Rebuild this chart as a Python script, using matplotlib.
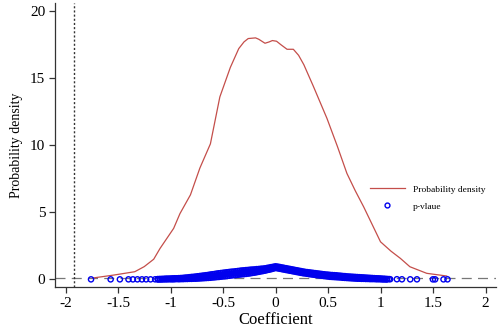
import matplotlib
matplotlib.use("Agg")
import matplotlib.pyplot as plt
from matplotlib.lines import Line2D

plt.rcParams['font.family'] = ['Liberation Serif', 'DejaVu Serif']
plt.rcParams['axes.unicode_minus'] = False

# Kernel density of the coefficients
dens_x = [-1.74, -1.54, -1.34, -1.25, -1.16, -1.10, -0.97, -0.91, -0.81, -0.72,
          -0.62, -0.53, -0.43, -0.35, -0.30, -0.26, -0.19, -0.16, -0.10, -0.06,
          -0.03, 0.01, 0.05, 0.11, 0.17, 0.22, 0.27, 0.36, 0.49, 0.59,
          0.68, 0.76, 0.84, 1.00, 1.10, 1.19, 1.28, 1.44, 1.63]
dens_y = [0.10, 0.32, 0.57, 0.95, 1.50, 2.3, 3.8, 4.9, 6.3, 8.3,
          10.1, 13.6, 15.8, 17.2, 17.7, 17.95, 18.0, 17.9, 17.6, 17.7,
          17.8, 17.75, 17.5, 17.15, 17.15, 16.7, 16.0, 14.4, 12.0, 9.9,
          7.9, 6.6, 5.4, 2.8, 2.1, 1.56, 0.94, 0.45, 0.25]

# p-values of the coefficients (dense band)
band_coef = [-1.12, -1.10, -1.08, -1.06, -1.04, -1.02, -1.00, -0.98, -0.96, -0.94,
             -0.92, -0.90, -0.88, -0.86, -0.84, -0.82, -0.80, -0.78, -0.76, -0.74,
             -0.72, -0.70, -0.68, -0.66, -0.64, -0.62, -0.60, -0.58, -0.56, -0.54,
             -0.52, -0.50, -0.48, -0.46, -0.44, -0.42, -0.40, -0.38, -0.36, -0.34,
             -0.32, -0.30, -0.28, -0.26, -0.24, -0.22, -0.20, -0.18, -0.16, -0.14,
             -0.12, -0.10, -0.08, -0.06, -0.04, -0.02, 0.00,
             0.02, 0.04, 0.06, 0.08, 0.10, 0.12, 0.14, 0.16, 0.18, 0.20,
             0.22, 0.24, 0.26, 0.28, 0.30, 0.32, 0.34, 0.36, 0.38, 0.40,
             0.42, 0.44, 0.46, 0.48, 0.50, 0.52, 0.54, 0.56, 0.58, 0.60,
             0.62, 0.64, 0.66, 0.68, 0.70, 0.72, 0.74, 0.76, 0.78, 0.80,
             0.82, 0.84, 0.86, 0.88, 0.90, 0.92, 0.94, 0.96, 0.98, 1.00,
             1.02, 1.04, 1.06]
band_p_low = [0.00, 0.00, 0.00, 0.01, 0.00, 0.01, 0.01, 0.00, 0.01, 0.02,
              0.01, 0.02, 0.02, 0.03, 0.03, 0.04, 0.04, 0.05, 0.05, 0.06,
              0.07, 0.08, 0.09, 0.10, 0.11, 0.12, 0.14, 0.15, 0.17, 0.18,
              0.20, 0.22, 0.23, 0.25, 0.27, 0.29, 0.31, 0.32, 0.34, 0.36,
              0.38, 0.39, 0.41, 0.43, 0.45, 0.48, 0.50, 0.53, 0.56, 0.59,
              0.62, 0.65, 0.69, 0.72, 0.76, 0.80, 0.85,
              0.82, 0.79, 0.76, 0.73, 0.70, 0.67, 0.64, 0.61, 0.58, 0.55,
              0.52, 0.49, 0.46, 0.44, 0.42, 0.39, 0.37, 0.35, 0.33, 0.31,
              0.29, 0.27, 0.25, 0.23, 0.21, 0.19, 0.18, 0.17, 0.16, 0.15,
              0.14, 0.12, 0.11, 0.10, 0.09, 0.08, 0.07, 0.06, 0.05, 0.05,
              0.04, 0.04, 0.03, 0.03, 0.02, 0.02, 0.02, 0.01, 0.01, 0.01,
              0.00, 0.00, 0.00]
band_p_mid = [0.01, 0.01, 0.02, 0.02, 0.03, 0.03, 0.03, 0.04, 0.04, 0.05,
              0.05, 0.06, 0.06, 0.08, 0.08, 0.10, 0.11, 0.12, 0.13, 0.14,
              0.16, 0.17, 0.19, 0.20, 0.22, 0.24, 0.26, 0.27, 0.30, 0.31,
              0.33, 0.35, 0.37, 0.39, 0.41, 0.43, 0.44, 0.46, 0.48, 0.50,
              0.52, 0.53, 0.55, 0.56, 0.58, 0.60, 0.62, 0.64, 0.66, 0.69,
              0.71, 0.73, 0.77, 0.80, 0.84, 0.87, 0.91,
              0.89, 0.86, 0.82, 0.80, 0.76, 0.74, 0.70, 0.68, 0.64, 0.62,
              0.58, 0.56, 0.52, 0.50, 0.48, 0.45, 0.44, 0.41, 0.40, 0.37,
              0.36, 0.33, 0.32, 0.29, 0.28, 0.26, 0.25, 0.24, 0.23, 0.21,
              0.20, 0.18, 0.17, 0.16, 0.15, 0.14, 0.13, 0.12, 0.11, 0.10,
              0.09, 0.09, 0.08, 0.07, 0.06, 0.06, 0.05, 0.04, 0.04, 0.03,
              0.02, 0.02, 0.01]
band_p_high = [0.02, 0.03, 0.03, 0.04, 0.05, 0.05, 0.06, 0.07, 0.08, 0.08,
               0.09, 0.10, 0.11, 0.13, 0.14, 0.16, 0.18, 0.19, 0.21, 0.23,
               0.25, 0.27, 0.29, 0.31, 0.33, 0.36, 0.38, 0.40, 0.43, 0.45,
               0.47, 0.49, 0.51, 0.53, 0.55, 0.57, 0.58, 0.60, 0.62, 0.64,
               0.66, 0.67, 0.69, 0.70, 0.72, 0.73, 0.74, 0.76, 0.77, 0.79,
               0.80, 0.82, 0.85, 0.88, 0.91, 0.94, 0.97,
               0.95, 0.92, 0.89, 0.86, 0.83, 0.80, 0.77, 0.74, 0.71, 0.68,
               0.65, 0.62, 0.59, 0.56, 0.54, 0.52, 0.50, 0.48, 0.46, 0.44,
               0.42, 0.40, 0.38, 0.36, 0.35, 0.33, 0.32, 0.31, 0.30, 0.28,
               0.27, 0.25, 0.24, 0.22, 0.21, 0.20, 0.19, 0.18, 0.17, 0.16,
               0.15, 0.14, 0.13, 0.12, 0.11, 0.10, 0.09, 0.08, 0.07, 0.06,
               0.05, 0.04, 0.03]

# isolated p-values in the tails
tail_coef = [-1.757, -1.57, -1.482, -1.40, -1.358, -1.315, -1.272, -1.232, -1.19, -1.146,
             1.08, 1.092, 1.156, 1.204, 1.283, 1.347, 1.499, 1.52, 1.60, 1.638]
tail_p = [0.0, 0.0, 0.0, 0.001, 0.0, 0.001, 0.0, 0.002, 0.001, 0.003,
          0.02, 0.01, 0.01, 0.004, 0.002, 0.002, 0.0, 0.001, 0.0, 0.001]

crit_coef = -1.92
p_threshold = 0.1

x_ticks = [-2, -1.5, -1, -0.5, 0, 0.5, 1, 1.5, 2]
x_ticklabels = ["-2", "-1.5", "-1", "-0.5", "0", "0.5", "1", "1.5", "2"]
y_ticks = [0, 5, 10, 15, 20]

fig = plt.figure(figsize=(4.98, 3.27), dpi=100)
ax = fig.add_axes([55 / 498, 40 / 327, 441 / 498, 284 / 327])

line_color = '#C44E4A'
pt_color = '#0000EE'

ax.plot(dens_x, dens_y, color=line_color, lw=0.9, label='Probability density', zorder=3)

all_coef = band_coef + band_coef + band_coef + tail_coef
all_p = band_p_low + band_p_mid + band_p_high + tail_p
ax.scatter(all_coef, all_p, s=14, facecolors='none', edgecolors=pt_color,
           linewidths=1.0, zorder=4, label='p-vlaue')

ax.axhline(p_threshold, color='#777777', lw=0.9, ls=(0, (8, 5)), zorder=2)
ax.axvline(crit_coef, color='#333333', lw=1.0, ls=(0, (1.5, 1.5)), zorder=2)

ax.set_xlim(-2.1, 2.1)
ax.set_ylim(-0.57, 20.6)
ax.set_xticks(x_ticks)
ax.set_xticklabels(x_ticklabels)
ax.set_yticks(y_ticks)

for s in ['top', 'right']:
    ax.spines[s].set_visible(False)
for s in ['left', 'bottom']:
    ax.spines[s].set_color('#333333')
    ax.spines[s].set_linewidth(0.9)

ax.tick_params(direction='out', length=4, width=0.9, color='#333333',
               labelsize=11, pad=3)
ax.set_xlabel('Coefficient', fontsize=12, labelpad=2)
ax.set_ylabel('Probability density', fontsize=10, labelpad=5)

handles = [Line2D([], [], color=line_color, lw=0.9),
           Line2D([], [], ls='none', marker='o', markersize=3.5, markerfacecolor='none',
                  markeredgecolor=pt_color, markeredgewidth=1.0)]
ax.legend(handles, ['Probability density', 'p-vlaue'], loc='upper left',
          bbox_to_anchor=((370 - 55) / 441, (287 - 185) / 284), frameon=False,
          fontsize=6.8, handlelength=3.7, handletextpad=0.8, labelspacing=0.9,
          borderpad=0, borderaxespad=0)

fig.savefig('out.png', dpi=100)
